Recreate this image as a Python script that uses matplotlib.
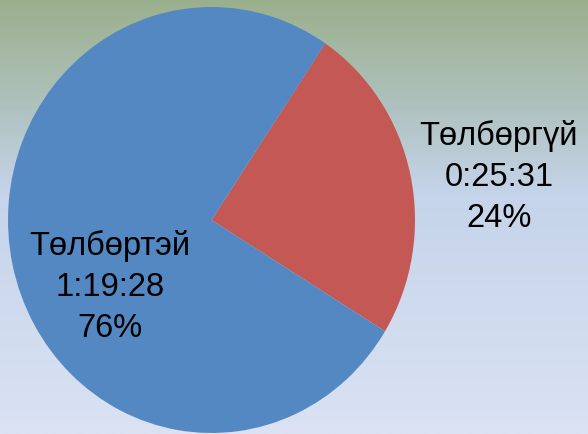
import matplotlib
matplotlib.use("Agg")
import matplotlib.pyplot as plt
import numpy as np
from matplotlib.colors import LinearSegmentedColormap

plt.rcParams["font.family"] = ["Liberation Sans", "DejaVu Sans"]

labels = ["Төлбөргүй", "Төлбөртэй"]
durations = ["0:25:31", "1:19:28"]
seconds = [25 * 60 + 31, 79 * 60 + 28]
colors = ["#C45854", "#5488C2"]

W, H = 588, 434
fig = plt.figure(figsize=(W / 100, H / 100), dpi=100)

# background gradient (green top -> pale blue bottom)
bg = fig.add_axes([0, 0, 1, 1])
cmap = LinearSegmentedColormap.from_list(
    "bg", [(0, "#9AB08C"), (0.25, "#B0C2C0"), (0.45, "#C5D4EA"), (1, "#DAE2F3")])
grad = np.linspace(0, 1, 256).reshape(-1, 1)
bg.imshow(grad, aspect="auto", cmap=cmap, extent=[0, 1, 1, 0])
bg.axis("off")

# pie (slightly stretched vertically, as in the original)
ax = fig.add_axes([8 / W, 1 / H, 407 / W, 426 / H])
total = sum(seconds)
ax.pie(seconds, colors=colors, startangle=56, counterclock=False,
       radius=1, wedgeprops=dict(linewidth=0))
ax.set_aspect("auto")
ax.set_xlim(-1, 1)
ax.set_ylim(-1, 1)

pcts = [round(100 * s / total) for s in seconds]
pos = [(499, 177), (110, 287)]
for lab, d, p, (x, y) in zip(labels, durations, pcts, pos):
    fig.text(x / W, 1 - y / H, f"{lab}\n{d}\n{p}%", ha="center", va="center",
             fontsize=23.5, linespacing=1.4, color="black")

fig.savefig("out.png", dpi=100)
